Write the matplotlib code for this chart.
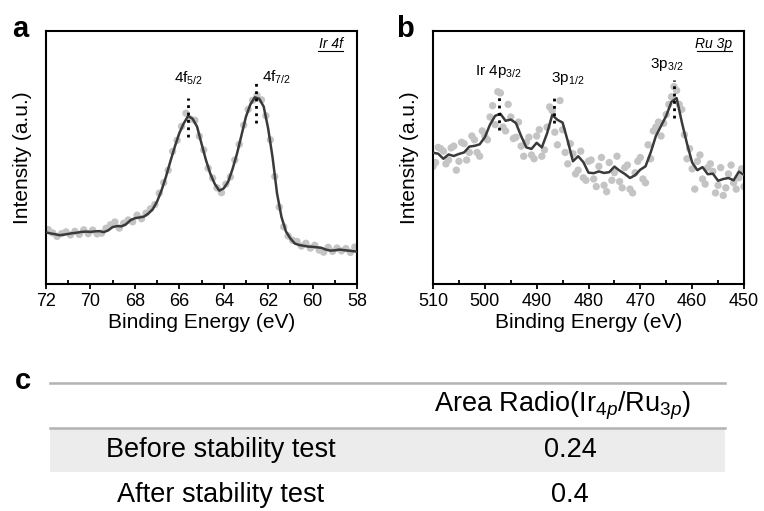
import matplotlib
matplotlib.use("Agg")
import matplotlib.pyplot as plt
from matplotlib.lines import Line2D
from matplotlib.patches import Rectangle

plt.rcParams['font.family'] = ['Liberation Sans', 'DejaVu Sans']
plt.rcParams['mathtext.fontset'] = 'custom'
plt.rcParams['mathtext.rm'] = 'Liberation Sans'
plt.rcParams['mathtext.it'] = 'Liberation Sans:italic'

# ---------------- Panel a: Ir 4f ----------------
ir_line_x = [72.0, 71.8, 71.6, 71.4, 71.2, 71.0, 70.8, 70.6, 70.4, 70.2, 70.0,
             69.8, 69.6, 69.4, 69.2, 69.0, 68.8, 68.6, 68.4, 68.2, 68.0,
             67.8, 67.6, 67.4, 67.2, 67.0, 66.8, 66.6, 66.4, 66.2, 66.0,
             65.8, 65.6, 65.4, 65.2, 65.0, 64.8, 64.6, 64.4, 64.2, 64.0,
             63.8, 63.6, 63.4, 63.2, 63.0, 62.8, 62.6, 62.4, 62.2, 62.0,
             61.8, 61.6, 61.4, 61.2, 61.0, 60.8, 60.6, 60.4, 60.2, 60.0,
             59.8, 59.6, 59.4, 59.2, 59.0, 58.8, 58.6, 58.4, 58.2, 58.0]
ir_line_y = [20.4, 20.0, 19.7, 19.3, 19.5, 19.8, 20.1, 20.3, 20.6, 20.7, 20.6,
             20.8, 20.9, 20.5, 21.2, 22.5, 22.9, 22.8, 23.6, 25.2, 26.0,
             26.3, 26.6, 27.8, 29.5, 32.6, 37.0, 42.4, 48.5, 54.3, 59.6,
             63.5, 66.4, 65.3, 62.2, 55.5, 49.0, 43.5, 39.5, 36.9, 37.8,
             40.4, 45.5, 51.6, 58.8, 66.1, 71.0, 73.8, 73.2, 70.1, 61.5,
             50.0, 35.8, 26.5, 20.8, 18.0, 16.0, 15.4, 15.1, 14.8, 14.7,
             14.5, 14.3, 13.6, 13.2, 13.3, 13.6, 13.4, 13.2, 13.0, 12.8]
ir_dot_x = [71.9, 71.7, 71.5, 71.3, 71.1, 70.9, 70.7, 70.5, 70.3, 70.1,
            69.9, 69.7, 69.5, 69.3, 69.1, 68.9, 68.7, 68.5, 68.3, 68.1,
            67.9, 67.7, 67.5, 67.3, 67.1, 66.9, 66.7, 66.5, 66.3, 66.1,
            65.9, 65.7, 65.5, 65.3, 65.1, 64.9, 64.7, 64.5, 64.3, 64.1,
            63.9, 63.7, 63.5, 63.3, 63.1, 62.9, 62.7, 62.5, 62.3, 62.1,
            61.9, 61.7, 61.5, 61.3, 61.1, 60.9, 60.7, 60.5, 60.3, 60.1,
            59.9, 59.7, 59.5, 59.3, 59.1, 58.9, 58.7, 58.5, 58.3, 58.1]
ir_dot_y = [21.5, 20.2, 18.8, 19.9, 20.6, 19.4, 20.8, 19.6, 21.4, 19.9,
            21.3, 19.8, 20.1, 22.0, 23.4, 24.5, 22.1, 24.0, 25.3, 24.6,
            27.2, 25.8, 28.0, 29.7, 31.4, 35.9, 40.1, 45.0, 52.4, 56.8,
            62.3, 67.5, 65.2, 64.7, 58.4, 53.0, 45.8, 41.9, 38.0, 36.1,
            39.5, 42.3, 49.0, 55.2, 62.8, 69.0, 72.6, 74.5, 72.8, 66.5,
            57.0, 42.5, 30.4, 22.6, 19.0, 17.3, 16.8, 15.0, 16.1, 14.2,
            15.3, 13.4, 12.6, 14.5, 12.9, 14.2, 13.1, 14.0, 12.5, 14.6]
ir_peaks_x = [65.6, 62.55]
ir_peaks_lo = [58.2, 63.5]
ir_peaks_hi = [73.6, 79.3]
ir_labels = ['4f$_{5/2}$', '4f$_{7/2}$']
ir_label_x = [65.6, 61.6]
ir_label_y = [81.3, 81.8]

# ---------------- Panel b: Ru 3p ----------------
ru_line_x = [510, 509, 508, 507, 506, 505, 504, 503, 502, 501, 500,
             499, 498, 497, 496, 495, 494, 493, 492, 491, 490,
             489, 488, 487, 486, 485, 484, 483, 482, 481, 480,
             479, 478, 477, 476, 475, 474, 473, 472, 471, 470,
             469, 468, 467, 466, 465, 464, 463, 462, 461, 460,
             459, 458, 457, 456, 455, 454, 453, 452, 451, 450]
ru_line_y = [51.9, 51.5, 49.5, 51.2, 50.6, 51.4, 52.0, 54.3, 54.6, 55.2, 58.0,
             63.0, 66.5, 67.3, 64.5, 65.0, 63.6, 58.5, 54.0, 53.4, 55.8,
             54.0, 59.5, 66.8, 64.9, 63.8, 56.5, 48.5, 50.5, 48.2, 44.0,
             43.8, 44.5, 43.9, 44.2, 46.4, 44.8, 43.5, 41.9, 43.0, 45.2,
             46.5, 52.0, 58.5, 62.5, 66.5, 72.0, 73.5, 64.0, 55.5, 48.0,
             45.0, 46.2, 43.4, 43.6, 40.8, 41.5, 41.9, 41.0, 44.4, 43.1]
ru_dot_x = [509.5, 508.5, 507.5, 506.5, 505.5, 504.5, 503.5, 502.5, 501.5, 500.5,
            499.5, 498.5, 497.5, 496.5, 495.5, 494.5, 493.5, 492.5, 491.5, 490.5,
            489.5, 488.5, 487.5, 486.5, 485.5, 484.5, 483.5, 482.5, 481.5, 480.5,
            479.5, 478.5, 477.5, 476.5, 475.5, 474.5, 473.5, 472.5, 471.5, 470.5,
            469.5, 468.5, 467.5, 466.5, 465.5, 464.5, 463.5, 462.5, 461.5, 460.5,
            459.5, 458.5, 457.5, 456.5, 455.5, 454.5, 453.5, 452.5, 451.5, 450.5,
            510, 509, 508, 507, 506, 505, 504, 503, 502, 501, 500,
            499, 498, 497, 496, 495, 494, 493, 492, 491, 490,
            489, 488, 487, 486, 485, 484, 483, 482, 481, 480,
            479, 478, 477, 476, 475, 474, 473, 472, 471, 470,
            469, 468, 467, 466, 465, 464, 463, 462, 461, 460,
            459, 458, 457, 456, 455, 454, 453, 452, 451, 450]
ru_dot_y = [48.0, 53.5, 47.5, 53.8, 45.0, 56.0, 49.0, 58.5, 52.0, 60.5,
            57.0, 70.5, 76.0, 62.0, 71.0, 57.5, 64.0, 50.5, 58.0, 49.5,
            61.0, 53.0, 70.0, 60.0, 72.5, 52.0, 55.5, 43.5, 52.5, 41.0,
            49.0, 38.5, 50.0, 36.5, 41.0, 50.5, 38.0, 47.0, 36.0, 48.5,
            41.5, 55.0, 60.5, 64.0, 63.5, 71.0, 78.0, 71.0, 59.0, 53.5,
            37.5, 51.0, 39.5, 47.5, 36.0, 46.0, 38.0, 47.0, 37.5, 45.5,
            46.5, 54.0, 52.5, 49.0, 54.5, 48.5, 55.5, 52.0, 57.0, 50.5, 58.5,
            66.0, 63.0, 75.5, 60.5, 66.0, 58.0, 54.5, 56.0, 51.0, 58.5,
            50.5, 62.0, 68.5, 55.0, 61.0, 47.5, 51.5, 45.0, 42.0, 48.5,
            41.5, 46.5, 39.0, 48.0, 44.0, 40.5, 46.0, 37.5, 44.0, 50.0,
            40.0, 49.5, 62.0, 58.5, 67.0, 74.0, 76.5, 69.0, 49.5, 45.5,
            48.5, 41.5, 46.0, 44.5, 39.0, 35.0, 43.5, 40.0, 42.0, 38.5]
ru_peaks_x = [497.3, 486.7, 463.5]
ru_peaks_lo = [60.9, 63.5, 65.5]
ru_peaks_hi = [74.0, 74.7, 80.6]
ru_labels = ['Ir 4p$_{3/2}$', '3p$_{1/2}$', '3p$_{3/2}$']
ru_label_x = [497.4, 484.1, 464.9]
ru_label_y = [83.9, 81.3, 86.6]

# ---------------- Panel c: table ----------------
table_header = 'Area Radio(Ir$_{\\mathit{4p}}$/Ru$_{\\mathit{3p}}$)'
table_rows = ['Before stability test', 'After stability test']
table_values = ['0.24', '0.4']

W, H = 764, 511
fig = plt.figure(figsize=(W / 100, H / 100), dpi=100)

def px_ax(l, t, r, b):
    return fig.add_axes([l / W, 1 - b / H, (r - l) / W, (b - t) / H])

axa = px_ax(46, 31, 357, 284)
axb = px_ax(433, 31, 744, 284)

dot_c = '#c4c4c4'
line_c = '#3a3a3a'

def style(ax, xlim, major, minor):
    ax.set_xlim(*xlim)
    ax.set_ylim(0, 100)
    ax.set_yticks([])
    ax.set_xticks(major)
    ax.set_xticks(minor, minor=True)
    ax.tick_params(axis='x', which='major', direction='out', length=3.5, width=1.3,
                   labelsize=13, pad=3)
    ax.tick_params(axis='x', which='minor', direction='in', length=3, width=1.3)
    for s in ax.spines.values():
        s.set_linewidth(1.5)
    ax.set_xlabel('Binding Energy (eV)', fontsize=15, labelpad=2)
    ax.set_ylabel('Intensity (a.u.)', fontsize=15, labelpad=10)

# Panel a
axa.scatter(ir_dot_x, ir_dot_y, s=28, color=dot_c, edgecolors='none', zorder=2)
axa.plot(ir_line_x, ir_line_y, color=line_c, lw=1.8, zorder=3)
axa.vlines(ir_peaks_x, ir_peaks_lo, ir_peaks_hi, colors='black', linestyles=':', lw=2, zorder=4)
for t, x, y in zip(ir_labels, ir_label_x, ir_label_y):
    axa.text(x, y, t, ha='center', va='center', fontsize=11)
style(axa, (72, 58), [72, 70, 68, 66, 64, 62, 60, 58], [71, 69, 67, 65, 63, 61, 59])
axa.text(0.955, 0.947, 'Ir 4f', transform=axa.transAxes, ha='right', va='center',
         fontsize=10, style='italic')
axa.add_line(Line2D([0.875, 0.955], [0.922, 0.922], transform=axa.transAxes,
                    color='black', lw=0.8))

# Panel b
axb.scatter(ru_dot_x, ru_dot_y, s=28, color=dot_c, edgecolors='none', zorder=2)
axb.plot(ru_line_x, ru_line_y, color=line_c, lw=1.8, zorder=3)
axb.vlines(ru_peaks_x, ru_peaks_lo, ru_peaks_hi, colors='black', linestyles=':', lw=2, zorder=4)
for t, x, y in zip(ru_labels, ru_label_x, ru_label_y):
    axb.text(x, y, t, ha='center', va='center', fontsize=11)
style(axb, (510, 450), [510, 500, 490, 480, 470, 460, 450],
      [505, 495, 485, 475, 465, 455])
axb.text(0.962, 0.947, 'Ru 3p', transform=axb.transAxes, ha='right', va='center',
         fontsize=10, style='italic')
axb.add_line(Line2D([0.85, 0.962], [0.922, 0.922], transform=axb.transAxes,
                    color='black', lw=0.8))

# Panel letters
fig.text(12 / W, 1 - 29 / H, 'a', fontsize=21, fontweight='bold', ha='left', va='center')
fig.text(396 / W, 1 - 29 / H, 'b', fontsize=21, fontweight='bold', ha='left', va='center')
fig.text(15 / W, 1 - 381 / H, 'c', fontsize=21, fontweight='bold', ha='left', va='center')

# Table
tsize = 19.5
x0, x1 = 50 / W, 725 / W
fig.add_artist(Rectangle((x0, 1 - 472 / H), x1 - x0, 44 / H, transform=fig.transFigure,
                         facecolor='#ececec', edgecolor='none', zorder=0))
fig.add_artist(Line2D([x0, x1], [1 - 383 / H] * 2, transform=fig.transFigure,
                      color='#b2b2b2', lw=1.8))
fig.add_artist(Line2D([x0, x1], [1 - 428 / H] * 2, transform=fig.transFigure,
                      color='#b2b2b2', lw=1.8))
fig.text(563 / W, 1 - 406 / H, table_header, ha='center', va='center', fontsize=tsize)
row_y = [450, 495]
for name, val, y in zip(table_rows, table_values, row_y):
    fig.text(221 / W, 1 - y / H, name, ha='center', va='center', fontsize=tsize)
    fig.text(570 / W, 1 - y / H, val, ha='center', va='center', fontsize=tsize)

fig.savefig('out.png', dpi=100)
